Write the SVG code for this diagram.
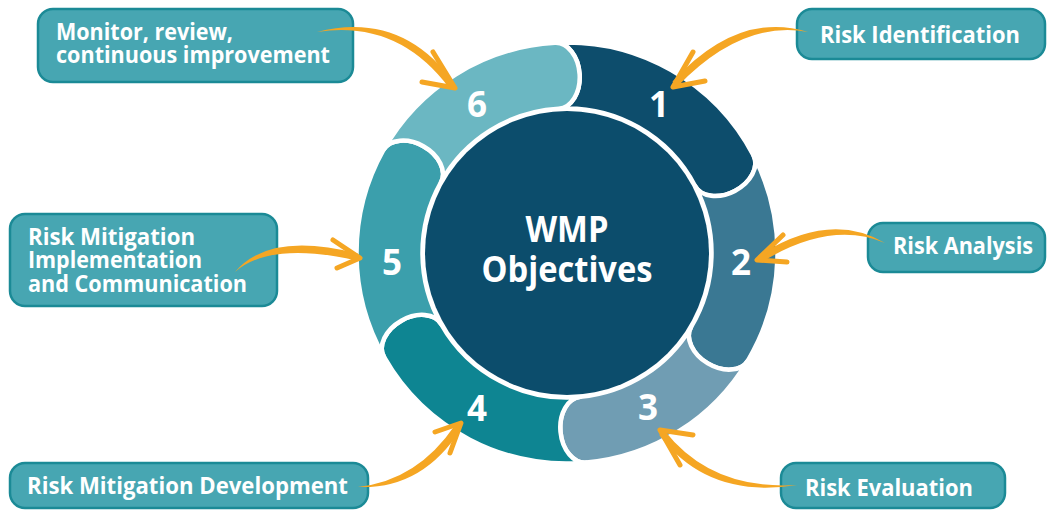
<svg xmlns="http://www.w3.org/2000/svg" width="1047" height="510" viewBox="0 0 1047 510">
<style>
.box{fill:#47a6b2;stroke:#1b8a96;stroke-width:2.5}
.t{font-family:"Open Sans","Noto Sans",sans-serif;font-weight:700;fill:#fff}
.lbl{font-size:24px}
.num{font-size:35px;text-anchor:middle}
.seg{stroke:#fff;stroke-width:4.5;stroke-linejoin:round}
.shaft{fill:#f5a623}
.head{fill:none;stroke:#f5a623;stroke-width:5;stroke-linecap:round;stroke-linejoin:round}
</style>
<rect width="1047" height="510" fill="#fff"/>
<g id="segment-1"><path class="seg" fill="#0d4d6c" d="M554.88,42.85 A210.5,210.5 0 0 1 753.55,155.48 A23,33 62.4 0 1 695.06,186.05 A144.5,144.5 0 0 0 558.68,108.74 A23,33 -3.3 0 0 554.88,42.85 Z"/><text class="t num" x="659" y="117">1</text></g>
<g id="segment-2"><path class="seg" fill="#3a7893" d="M753.55,155.48 A210.5,210.5 0 0 1 747.81,360.78 A23,33 120.8 0 1 691.12,326.99 A144.5,144.5 0 0 0 695.06,186.05 A23,33 62.4 0 0 753.55,155.48 Z"/><text class="t num" x="741" y="275">2</text></g>
<g id="segment-3"><path class="seg" fill="#709db3" d="M747.81,360.78 A210.5,210.5 0 0 1 586.44,462.60 A23,33 174.7 0 1 580.35,396.88 A144.5,144.5 0 0 0 691.12,326.99 A23,33 120.8 0 0 747.81,360.78 Z"/><text class="t num" x="648" y="420">3</text></g>
<g id="segment-4"><path class="seg" fill="#0e8592" d="M586.44,462.60 A210.5,210.5 0 0 1 383.97,356.97 A23,33 240.4 0 1 441.36,324.37 A144.5,144.5 0 0 0 580.35,396.88 A23,33 174.7 0 0 586.44,462.60 Z"/><text class="t num" x="477" y="421">4</text></g>
<g id="segment-5"><path class="seg" fill="#3b9fac" d="M383.97,356.97 A210.5,210.5 0 0 1 383.43,149.99 A23,33 299.3 0 1 440.99,182.28 A144.5,144.5 0 0 0 441.36,324.37 A23,33 240.4 0 0 383.97,356.97 Z"/><text class="t num" x="392" y="275">5</text></g>
<g id="segment-6"><path class="seg" fill="#6bb7c2" d="M383.43,149.99 A210.5,210.5 0 0 1 554.88,42.85 A23,33 -3.3 0 1 558.68,108.74 A144.5,144.5 0 0 0 440.99,182.28 A23,33 299.3 0 0 383.43,149.99 Z"/><text class="t num" x="477" y="117">6</text></g>
<g id="center"><circle cx="567" cy="253" r="142" fill="#0c4d6c"/><text class="t" font-size="35" text-anchor="middle" x="567" y="242" textLength="83" lengthAdjust="spacingAndGlyphs">WMP</text><text class="t" font-size="35" text-anchor="middle" x="567" y="282" textLength="171" lengthAdjust="spacingAndGlyphs">Objectives</text></g>
<g id="label-monitor"><rect class="box" x="38" y="9" width="315" height="73" rx="15"/><text class="t lbl" x="56" y="40" textLength="177" lengthAdjust="spacingAndGlyphs">Monitor, review,</text><text class="t lbl" x="56" y="63" textLength="274" lengthAdjust="spacingAndGlyphs">continuous improvement</text></g>
<g id="label-identification"><rect class="box" x="797" y="9" width="248" height="50" rx="15"/><text class="t lbl" x="820" y="43" textLength="200" lengthAdjust="spacingAndGlyphs">Risk Identification</text></g>
<g id="label-analysis"><rect class="box" x="868" y="223" width="177" height="49" rx="15"/><text class="t lbl" x="893" y="254" textLength="140" lengthAdjust="spacingAndGlyphs">Risk Analysis</text></g>
<g id="label-evaluation"><rect class="box" x="781" y="463" width="224" height="45" rx="15"/><text class="t lbl" x="805" y="496" textLength="168" lengthAdjust="spacingAndGlyphs">Risk Evaluation</text></g>
<g id="label-development"><rect class="box" x="10" y="463" width="358" height="45" rx="15"/><text class="t lbl" x="27" y="494" textLength="321" lengthAdjust="spacingAndGlyphs">Risk Mitigation Development</text></g>
<g id="label-implementation"><rect class="box" x="10" y="214" width="267" height="92" rx="15"/><text class="t lbl" x="28" y="245" textLength="167" lengthAdjust="spacingAndGlyphs">Risk Mitigation</text><text class="t lbl" x="28" y="268" textLength="174" lengthAdjust="spacingAndGlyphs">Implementation</text><text class="t lbl" x="28" y="292" textLength="219" lengthAdjust="spacingAndGlyphs">and Communication</text></g>
<g id="connectors">
<path class="shaft" d="M317,32 Q398.1,19.6 449.2,88.1 L454.8,83.9 Q401.9,10.4 317,32 Z"/>
<polyline class="head" points="433,52 455,88 422,82"/>
<path class="shaft" d="M808,32 Q738.2,10.3 672.5,81.6 L677.5,86.4 Q741.8,19.7 808,32 Z"/>
<polyline class="head" points="693,52 673,87 705,81"/>
<path class="shaft" d="M885,243 Q829.4,210 758.1,256 L761.9,262 Q830.6,220 885,243 Z"/>
<polyline class="head" points="783,235 757,260 787,262"/>
<path class="shaft" d="M797,485 Q711.8,490.3 664.8,430.9 L659.2,435.1 Q708.2,499.7 797,485 Z"/>
<polyline class="head" points="680,465 660,430 693,435"/>
<path class="shaft" d="M358,487 Q422.6,489.3 460.9,428.9 L455.1,425.1 Q417.4,480.7 358,487 Z"/>
<polyline class="head" points="435,432 461,423 450,453"/>
<path class="shaft" d="M235,272 Q270.6,241 356.2,260.4 L357.8,253.6 Q269.4,231 235,272 Z"/>
<polyline class="head" points="333,240 360,258 337,268"/>
</g>
</svg>
